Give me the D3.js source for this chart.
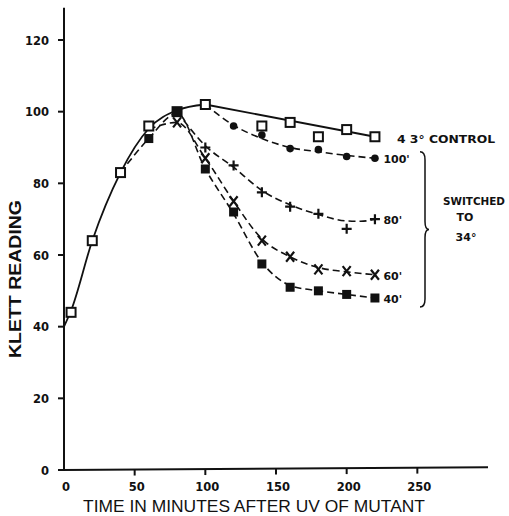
<!DOCTYPE html>
<html>
<head>
<meta charset="utf-8">
<script src="https://cdn.jsdelivr.net/npm/d3@7"></script>
<style>
    body { margin: 0; background: #fff; }
    svg { display: block; }
    .tick-label { font-family: "DejaVu Sans", sans-serif; font-weight: bold; font-size: 11.5px; fill: #111; }
    .note { font-family: "DejaVu Sans", sans-serif; font-weight: bold; font-size: 11px; fill: #111; }
    .axis-title { font-family: "Liberation Sans", Arial, sans-serif; font-size: 17px; fill: #111; }
</style>
</head>
<body>
<div id="graph"></div>
<script>
// tick labels
var xTicks = [0, 50, 100, 150, 200, 250];
var yTicks = [0, 20, 40, 60, 80, 100, 120];

// 43 deg control, open squares
var controlPoints = [[5, 44], [20, 64], [40, 83], [60, 96], [80, 100], [100, 102],
                     [140, 96], [160, 97], [180, 93], [200, 95], [220, 93]];
// fitted solid curve for the control
var controlRise = [[0, 40], [5, 44.5], [20, 64], [40, 83], [60, 95.3], [80, 100.4], [100, 102]];
var controlTail = [[100, 102], [220, 93]];

// switched to 34 deg at 100, 80, 60, 40 min
var sw100 = [[120, 96], [140, 93.5], [160, 89.7], [180, 89.4], [200, 87.5], [220, 87]];
var sw80 = [[100, 90], [120, 85], [140, 77.5], [160, 73.5], [180, 71.5], [200, 67.3], [220, 70]];
var sw60 = [[80, 97], [100, 87], [120, 75], [140, 64], [160, 59.5], [180, 56], [200, 55.5], [220, 54.5]];
var sw40 = [[60, 92.5], [80, 100], [100, 84], [120, 72], [140, 57.5], [160, 51], [180, 50], [200, 49], [220, 48]];

// dashed fitted curves
var fit100 = [[100, 102], [120, 96.2], [140, 92.5], [160, 90], [180, 88.8], [200, 87.8], [220, 87]];
var fit80 = [[80, 100], [100, 90.5], [120, 84.5], [140, 78], [160, 74], [180, 71.3], [200, 69.5], [210, 69.4], [220, 70]];
var fit60 = [[60, 95], [80, 97], [100, 87], [120, 75], [140, 64.5], [160, 59.5], [180, 56.5], [200, 55.3], [220, 54.5]];
var fit40 = [[40, 83], [60, 92.5], [80, 99.5], [100, 84], [120, 71.5], [140, 58], [160, 51.5], [180, 50], [200, 49], [220, 48]];

var seriesLabels = ["100'", "80'", "60'", "40'"];

var width = 509, height = 516;

var svg = d3.select("#graph").append("svg")
    .attr("width", width)
    .attr("height", height);

var x = d3.scaleLinear().domain([0, 300]).range([64, 488]);
var y = d3.scaleLinear().domain([0, 120]).range([470, 40]);

// axes lines
svg.append("line")
    .attr("x1", x(0)).attr("x2", x(0))
    .attr("y1", y(0) + 1).attr("y2", y(129))
    .attr("stroke", "#111").attr("stroke-width", 2);
svg.append("line")
    .attr("x1", x(0) - 1).attr("x2", x(300))
    .attr("y1", y(0)).attr("y2", y(0.8))
    .attr("stroke", "#111").attr("stroke-width", 2);

// y ticks
svg.selectAll(".ytick")
    .data(yTicks)
    .enter()
    .append("line")
    .attr("class", "ytick")
    .attr("x1", x(0) - 6).attr("x2", x(0))
    .attr("y1", function(d) { return y(d); })
    .attr("y2", function(d) { return y(d); })
    .attr("stroke", "#111").attr("stroke-width", 2);

svg.selectAll(".ylab")
    .data(yTicks)
    .enter()
    .append("text")
    .attr("class", "tick-label")
    .attr("x", x(0) - 15)
    .attr("y", function(d) { return y(d) + 4.5; })
    .attr("text-anchor", "end")
    .text(function(d) { return d; });

// x ticks
svg.selectAll(".xtick")
    .data(xTicks.filter(function(d) { return d > 0; }))
    .enter()
    .append("line")
    .attr("class", "xtick")
    .attr("x1", function(d) { return x(d); })
    .attr("x2", function(d) { return x(d); })
    .attr("y1", function(d) { return y(d / 300 * 0.8); })
    .attr("y2", function(d) { return y(d / 300 * 0.8) + 6; })
    .attr("stroke", "#111").attr("stroke-width", 2);

svg.selectAll(".xlab")
    .data(xTicks)
    .enter()
    .append("text")
    .attr("class", "tick-label")
    .attr("x", function(d) { return x(d) + 2; })
    .attr("y", 491)
    .attr("text-anchor", "middle")
    .text(function(d) { return d; });

// axis titles
svg.append("text")
    .attr("class", "axis-title")
    .attr("x", 254)
    .attr("y", 512)
    .attr("text-anchor", "middle")
    .attr("textLength", 342)
    .attr("lengthAdjust", "spacingAndGlyphs")
    .text("TIME IN MINUTES AFTER UV OF MUTANT");

svg.append("text")
    .attr("class", "axis-title")
    .attr("transform", "translate(21," + 279 + ") rotate(-90)")
    .attr("text-anchor", "middle")
    .attr("font-weight", "bold")
    .attr("textLength", 158)
    .attr("lengthAdjust", "spacingAndGlyphs")
    .text("KLETT READING");

// lines
var line = d3.line()
    .x(function(d) { return x(d[0]); })
    .y(function(d) { return y(d[1]); });

var smooth = d3.line()
    .curve(d3.curveMonotoneX)
    .x(function(d) { return x(d[0]); })
    .y(function(d) { return y(d[1]); });

var dashed = [fit100, fit80, fit60, fit40];

svg.selectAll(".dash")
    .data(dashed)
    .enter()
    .append("path")
    .attr("class", "dash")
    .attr("fill", "none")
    .attr("stroke", "#111")
    .attr("stroke-width", 1.6)
    .attr("stroke-dasharray", "7,4")
    .attr("d", function(d) { return smooth(d); });

svg.append("path")
    .attr("fill", "none")
    .attr("stroke", "#111")
    .attr("stroke-width", 1.8)
    .attr("d", smooth(controlRise));

svg.append("path")
    .attr("fill", "none")
    .attr("stroke", "#111")
    .attr("stroke-width", 1.8)
    .attr("d", line(controlTail));

// markers
function at(d) { return "translate(" + x(d[0]) + "," + y(d[1]) + ")"; }

svg.selectAll(".open-sq")
    .data(controlPoints)
    .enter()
    .append("rect")
    .attr("transform", at)
    .attr("x", -4.5).attr("y", -4.5)
    .attr("width", 9).attr("height", 9)
    .attr("fill", "#fff")
    .attr("stroke", "#111")
    .attr("stroke-width", 2);

svg.selectAll(".dot")
    .data(sw100)
    .enter()
    .append("circle")
    .attr("transform", at)
    .attr("r", 3.8)
    .attr("fill", "#111");

svg.selectAll(".plus")
    .data(sw80)
    .enter()
    .append("path")
    .attr("transform", at)
    .attr("d", "M-5,0H5M0,-5V5")
    .attr("stroke", "#111")
    .attr("stroke-width", 2.2);

svg.selectAll(".cross")
    .data(sw60)
    .enter()
    .append("path")
    .attr("transform", at)
    .attr("d", "M-4,-5L4,5M4,-5L-4,5")
    .attr("stroke", "#111")
    .attr("stroke-width", 2.2);

svg.selectAll(".sq")
    .data(sw40)
    .enter()
    .append("rect")
    .attr("transform", at)
    .attr("x", -4.5).attr("y", -4.5)
    .attr("width", 9).attr("height", 9)
    .attr("fill", "#111");

// labels on the right
var ends = [sw100[sw100.length - 1], sw80[sw80.length - 1], sw60[sw60.length - 1], sw40[sw40.length - 1]];
svg.selectAll(".end-label")
    .data(ends)
    .enter()
    .append("text")
    .attr("class", "note")
    .attr("x", x(226))
    .attr("y", function(d) { return y(d[1]) + 5; })
    .text(function(d, i) { return seriesLabels[i]; });

svg.append("text")
    .attr("class", "note")
    .attr("x", 397)
    .attr("y", 143)
    .attr("textLength", 98)
    .attr("lengthAdjust", "spacingAndGlyphs")
    .text("4 3\u00b0  CONTROL");

// brace
var bTop = y(88.8), bBot = y(45.5), bMid = (bTop + bBot) / 2, bx = 420;
svg.append("path")
    .attr("fill", "none")
    .attr("stroke", "#111")
    .attr("stroke-width", 1.5)
    .attr("d", "M" + bx + "," + bTop +
        "Q" + (bx + 5) + "," + bTop + " " + (bx + 5) + "," + (bTop + 8) +
        "V" + (bMid - 8) +
        "Q" + (bx + 5) + "," + bMid + " " + (bx + 9) + "," + bMid +
        "Q" + (bx + 5) + "," + bMid + " " + (bx + 5) + "," + (bMid + 8) +
        "V" + (bBot - 8) +
        "Q" + (bx + 5) + "," + bBot + " " + bx + "," + bBot);

svg.append("text").attr("class", "note").attr("x", 443).attr("y", 205)
    .attr("font-size", 10.5).attr("textLength", 62)
    .attr("lengthAdjust", "spacingAndGlyphs").text("SWITCHED");
svg.append("text").attr("class", "note").attr("x", 465).attr("y", 221)
    .attr("text-anchor", "middle").attr("font-size", 10.5).text("TO");
svg.append("text").attr("class", "note").attr("x", 466).attr("y", 241)
    .attr("text-anchor", "middle").attr("font-size", 10.5).text("34\u00b0");
</script>
</body>
</html>
